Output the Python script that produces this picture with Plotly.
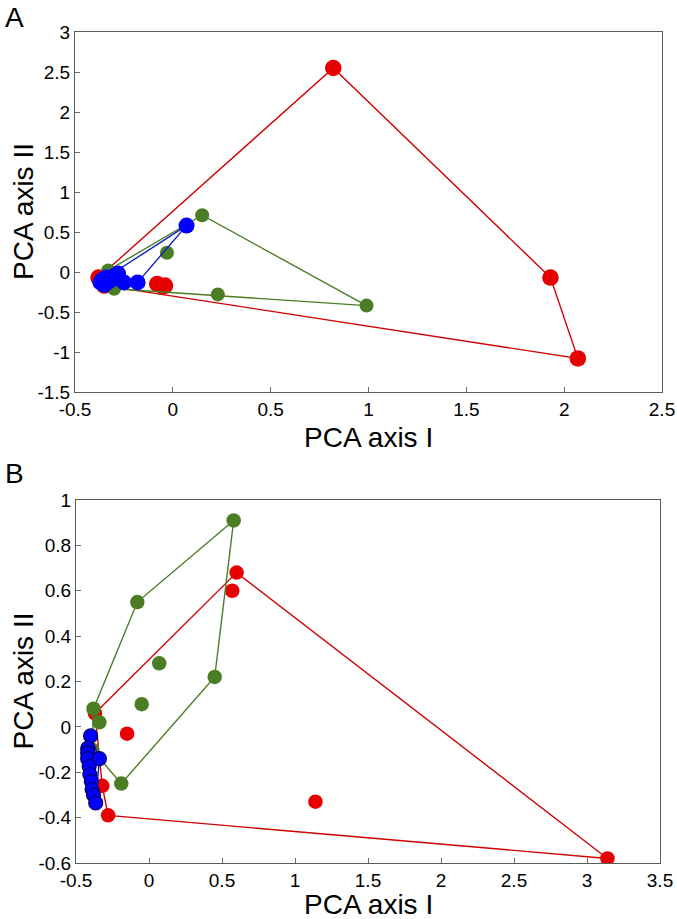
import plotly.graph_objects as go

W, H = 677, 919

# ---------------- Panel A data ----------------
a_red_x = [-0.38, -0.36, -0.35, -0.34, -0.08, -0.05, -0.04, 0.82, 1.93, 2.07]
a_red_y = [-0.07, -0.10, -0.17, -0.13, -0.15, -0.18, -0.17, 2.55, -0.07, -1.08]

a_green_x = [-0.33, -0.31, -0.30, -0.03, 0.15, 0.23, 0.99]
a_green_y = [0.02, -0.05, -0.21, 0.24, 0.71, -0.28, -0.42]

a_blue_x = [-0.37, -0.36, -0.35, -0.34, -0.33, -0.31, -0.30, -0.28, -0.25, -0.18, 0.07]
a_blue_y = [-0.13, -0.10, -0.16, -0.07, -0.12, -0.09, -0.05, -0.02, -0.13, -0.13, 0.58]

# ---------------- Panel B data ----------------
b_red_x = [-0.37, -0.32, -0.28, -0.15, 0.57, 0.60, 1.14, 3.14]
b_red_y = [0.06, -0.26, -0.39, -0.03, 0.60, 0.68, -0.33, -0.58]

b_green_x = [-0.39, -0.38, -0.34, -0.19, -0.08, -0.05, 0.07, 0.45, 0.58]
b_green_y = [-0.10, 0.08, 0.02, -0.25, 0.55, 0.10, 0.28, 0.22, 0.91]

b_blue_x = [-0.40, -0.42, -0.42, -0.42, -0.34, -0.41, -0.405, -0.395, -0.39, -0.38, -0.365]
b_blue_y = [-0.04, -0.095, -0.115, -0.14, -0.14, -0.175, -0.21, -0.24, -0.275, -0.30, -0.335]

# ---------------- Tick labels ----------------
a_xtick_vals = [-0.5, 0, 0.5, 1, 1.5, 2, 2.5]
a_xtick_text = ["-0.5", "0", "0.5", "1", "1.5", "2", "2.5"]
a_ytick_vals = [-1.5, -1, -0.5, 0, 0.5, 1, 1.5, 2, 2.5, 3]
a_ytick_text = ["-1.5", "-1", "-0.5", "0", "0.5", "1", "1.5", "2", "2.5", "3"]

b_xtick_vals = [-0.5, 0, 0.5, 1, 1.5, 2, 2.5, 3, 3.5]
b_xtick_text = ["-0.5", "0", "0.5", "1", "1.5", "2", "2.5", "3", "3.5"]
b_ytick_vals = [-0.6, -0.4, -0.2, 0, 0.2, 0.4, 0.6, 0.8, 1]
b_ytick_text = ["-0.6", "-0.4", "-0.2", "0", "0.2", "0.4", "0.6", "0.8", "1"]

RED = "#e60000"
RED_LINE = "#d00000"
GREEN = "#4b7d25"
GREEN_LINE = "#4b7d25"
BLUE = "#0000ff"
BLUE_LINE = "#1020c0"
FONT = "Liberation Sans, Arial, sans-serif"


def fx(px):
    return px / W


def fy(py):
    return 1 - py / H


def convex_hull(xs, ys):
    pts = sorted(set(zip(xs, ys)))
    if len(pts) < 3:
        return [p[0] for p in pts], [p[1] for p in pts]

    def cross(o, a, b):
        return (a[0] - o[0]) * (b[1] - o[1]) - (a[1] - o[1]) * (b[0] - o[0])

    lower = []
    for p in pts:
        while len(lower) >= 2 and cross(lower[-2], lower[-1], p) <= 0:
            lower.pop()
        lower.append(p)
    upper = []
    for p in reversed(pts):
        while len(upper) >= 2 and cross(upper[-2], upper[-1], p) <= 0:
            upper.pop()
        upper.append(p)
    hull = lower[:-1] + upper[:-1]
    hull.append(hull[0])
    return [p[0] for p in hull], [p[1] for p in hull]


fig = go.Figure()


def add_group(xs, ys, color, line_color, size, xa, ya, outline=None):
    hx, hy = convex_hull(xs, ys)
    fig.add_trace(go.Scatter(x=hx, y=hy, mode="lines",
                             line=dict(color=line_color, width=1.4),
                             xaxis=xa, yaxis=ya, hoverinfo="skip"))
    mk = dict(color=color, size=size, opacity=1)
    if outline:
        mk["line"] = dict(color=outline, width=1.2)
    else:
        mk["line"] = dict(width=0)
    fig.add_trace(go.Scatter(x=xs, y=ys, mode="markers", marker=mk,
                             xaxis=xa, yaxis=ya))


# Panel A
add_group(a_red_x, a_red_y, RED, RED_LINE, 16.5, "x", "y")
add_group(a_green_x, a_green_y, GREEN, GREEN_LINE, 14, "x", "y")
add_group(a_blue_x, a_blue_y, BLUE, BLUE_LINE, 16, "x", "y")

# Panel B
add_group(b_red_x, b_red_y, RED, RED_LINE, 14.5, "x2", "y2")
add_group(b_green_x, b_green_y, GREEN, GREEN_LINE, 14.5, "x2", "y2")
add_group(b_blue_x, b_blue_y, BLUE, BLUE_LINE, 14, "x2", "y2", outline="#000060")

axis_common = dict(
    showline=True, mirror=True, linecolor="#5a5a5a", linewidth=1,
    ticks="inside", ticklen=5, tickcolor="#6a6a6a", tickwidth=1,
    showgrid=False, zeroline=False, automargin=False,
    tickfont=dict(family=FONT, size=19, color="black"),
    fixedrange=True,
)

# plot-area edges in page pixels
a_x0, a_x1, a_top, a_bot = 75, 662, 32, 392
b_x0, b_x1, b_top, b_bot = 76, 660, 500, 863

fig.update_layout(
    template="none",
    width=W, height=H,
    margin=dict(l=0, r=0, t=0, b=0, pad=0, autoexpand=False),
    paper_bgcolor="white", plot_bgcolor="white",
    showlegend=False,
    font=dict(family=FONT, color="black"),
    xaxis=dict(domain=[fx(a_x0), fx(a_x1)], range=[-0.5, 2.5],
               tickvals=a_xtick_vals, ticktext=a_xtick_text, anchor="y",
               **axis_common),
    yaxis=dict(domain=[fy(a_bot), fy(a_top)], range=[-1.5, 3],
               tickvals=a_ytick_vals, ticktext=a_ytick_text, anchor="x",
               **axis_common),
    xaxis2=dict(domain=[fx(b_x0), fx(b_x1)], range=[-0.5, 3.5],
                tickvals=b_xtick_vals, ticktext=b_xtick_text, anchor="y2",
                **axis_common),
    yaxis2=dict(domain=[fy(b_bot), fy(b_top)], range=[-0.6, 1],
                tickvals=b_ytick_vals, ticktext=b_ytick_text, anchor="x2",
                **axis_common),
)

title_font = dict(family=FONT, size=28, color="black")
annos = [
    dict(text="A", x=fx(14), y=fy(18), font=dict(family=FONT, size=28, color="black")),
    dict(text="B", x=fx(14), y=fy(474), font=dict(family=FONT, size=28, color="black")),
    dict(text="PCA axis I", x=fx((a_x0 + a_x1) / 2), y=fy(437), font=title_font),
    dict(text="PCA axis I", x=fx((b_x0 + b_x1) / 2), y=fy(904), font=title_font),
    dict(text="PCA axis II", x=fx(23), y=fy((a_top + a_bot) / 2), font=title_font, textangle=-90),
    dict(text="PCA axis II", x=fx(23), y=fy((b_top + b_bot) / 2), font=title_font, textangle=-90),
]
for a in annos:
    a.update(xref="paper", yref="paper", showarrow=False, xanchor="center", yanchor="middle")
fig.update_layout(annotations=annos)

fig.write_html(
    "out.html",
    config={"displayModeBar": False, "staticPlot": True},
    post_script="document.body.style.margin='0';document.body.style.padding='0';",
)
